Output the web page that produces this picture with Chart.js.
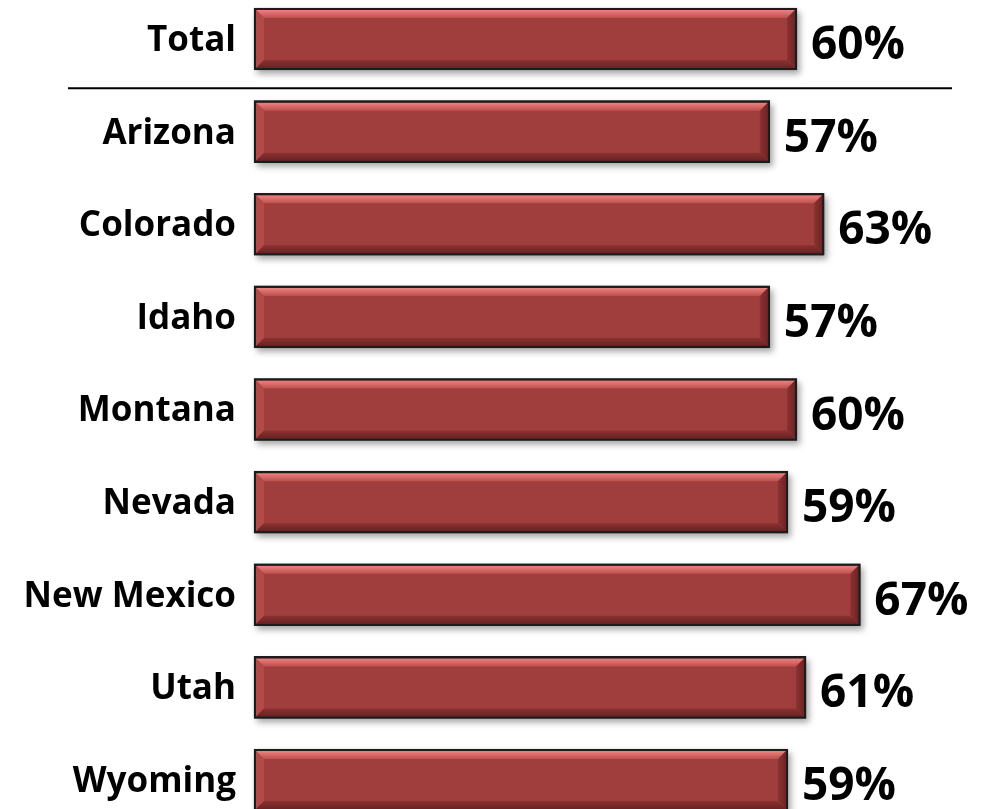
<!DOCTYPE html>
<html>
<head>
<meta charset="utf-8">
<script src="https://cdn.jsdelivr.net/npm/chart.js@4.4.0/dist/chart.umd.min.js"></script>
<style>
  body { margin: 0; background: #fff; }
  #wrap { width: 983px; height: 809px; position: relative; }
</style>
</head>
<body>
<div id="wrap"><canvas id="barchart"></canvas></div>
<script>
  const categories = [
    'Total',
    'Arizona',
    'Colorado',
    'Idaho',
    'Montana',
    'Nevada',
    'New Mexico',
    'Utah',
    'Wyoming',
  ];

  const percentValues = [60, 57, 63, 57, 60, 59, 67, 61, 59];

  const barFill = 'rgb(160, 62, 61)';

  // shadow under bars, bevel on top, and the text labels
  const bevelPlugin = {
    id: 'bevel',
    beforeDatasetsDraw(chart) {
      const ctx = chart.ctx;
      const meta = chart.getDatasetMeta(0);
      ctx.save();
      ctx.fillStyle = 'rgba(0,0,0,0.35)';
      ctx.filter = 'blur(3px)';
      meta.data.forEach(bar => {
        const p = bar.getProps(['x', 'y', 'base', 'height'], true);
        ctx.fillRect(p.base + 3, p.y - p.height / 2 + 4, p.x - p.base, p.height);
      });
      ctx.restore();
    },
    afterDatasetsDraw(chart) {
      const ctx = chart.ctx;
      const meta = chart.getDatasetMeta(0);
      const yScale = chart.scales.y;
      meta.data.forEach((bar, i) => {
        const p = bar.getProps(['x', 'y', 'base', 'height'], true);
        const l = p.base + 2, r = p.x - 2;
        const t = p.y - p.height / 2 + 2, b = p.y + p.height / 2 - 2;
        const bw = 8;
        ctx.save();
        // top
        let g = ctx.createLinearGradient(0, t, 0, t + bw);
        g.addColorStop(0, 'rgb(236, 130, 128)');
        g.addColorStop(1, 'rgb(190, 80, 78)');
        ctx.fillStyle = g;
        ctx.beginPath();
        ctx.moveTo(l, t); ctx.lineTo(r, t); ctx.lineTo(r - bw, t + bw); ctx.lineTo(l + bw, t + bw);
        ctx.closePath(); ctx.fill();
        // left
        ctx.fillStyle = 'rgb(178, 74, 72)';
        ctx.beginPath();
        ctx.moveTo(l, t); ctx.lineTo(l + bw, t + bw); ctx.lineTo(l + bw, b - bw); ctx.lineTo(l, b);
        ctx.closePath(); ctx.fill();
        // right
        g = ctx.createLinearGradient(r - bw, 0, r, 0);
        g.addColorStop(0, 'rgb(140, 50, 50)');
        g.addColorStop(1, 'rgb(110, 36, 36)');
        ctx.fillStyle = g;
        ctx.beginPath();
        ctx.moveTo(r, t); ctx.lineTo(r, b); ctx.lineTo(r - bw, b - bw); ctx.lineTo(r - bw, t + bw);
        ctx.closePath(); ctx.fill();
        // bottom
        g = ctx.createLinearGradient(0, b - bw, 0, b);
        g.addColorStop(0, 'rgb(140, 50, 50)');
        g.addColorStop(1, 'rgb(105, 34, 34)');
        ctx.fillStyle = g;
        ctx.beginPath();
        ctx.moveTo(l, b); ctx.lineTo(r, b); ctx.lineTo(r - bw, b - bw); ctx.lineTo(l + bw, b - bw);
        ctx.closePath(); ctx.fill();
        // redraw outline
        ctx.strokeStyle = '#1c1c1c';
        ctx.lineWidth = 2;
        ctx.strokeRect(p.base + 1, p.y - p.height / 2 + 1, p.x - p.base - 2, p.height - 2);
        ctx.restore();

        ctx.save();
        ctx.fillStyle = '#000';
        ctx.textBaseline = 'middle';
        ctx.font = 'bold 46px "Open Sans"';
        ctx.textAlign = 'left';
        ctx.fillText(percentValues[i] + '%', p.x + 14, p.y + 7);
        ctx.font = 'bold 35px "Open Sans"';
        ctx.textAlign = 'right';
        ctx.fillText(categories[i], p.base - 18, p.y + 2);
        ctx.restore();
      });

      // divider between Total and the states
      const lineY = (yScale.getPixelForValue(0) + yScale.getPixelForValue(1)) / 2 + 3;
      ctx.save();
      ctx.strokeStyle = '#000';
      ctx.lineWidth = 2;
      ctx.beginPath();
      ctx.moveTo(68, lineY);
      ctx.lineTo(952, lineY);
      ctx.stroke();
      ctx.restore();
    }
  };

  const data = {
    labels: categories,
    datasets: [{
      label: 'Percent',
      data: percentValues,
      backgroundColor: barFill,
      borderColor: '#1c1c1c',
      borderWidth: 2,
      borderSkipped: false,
      barThickness: 62,
      clip: false,
    }]
  };

  const config = {
    type: 'bar',
    data: data,
    options: {
      indexAxis: 'y',
      responsive: true,
      maintainAspectRatio: false,
      animation: false,
      layout: {
        padding: { left: 254, right: 5, top: 39, bottom: 29 }
      },
      scales: {
        x: { display: false, min: 0, max: 80 },
        y: { display: false, offset: false }
      },
      plugins: {
        legend: { display: false },
        tooltip: { enabled: false }
      }
    },
    plugins: [bevelPlugin]
  };

  const barchart = new Chart(
    document.getElementById('barchart'),
    config
  );
</script>
</body>
</html>
